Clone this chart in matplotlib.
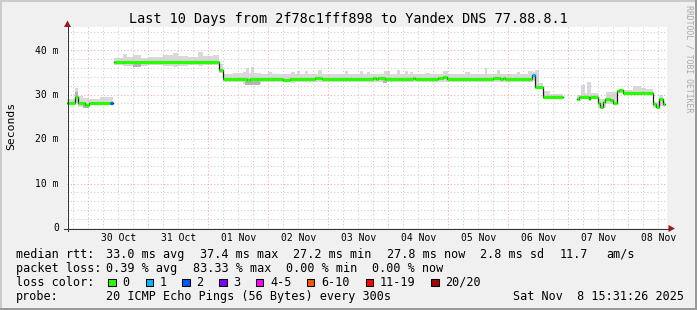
import matplotlib
matplotlib.use('Agg')
import matplotlib.pyplot as plt
import matplotlib.transforms as mtrans
from matplotlib.patches import Rectangle, Polygon
from matplotlib.lines import Line2D

nan = float('nan')

# ---------------- data ----------------
title = "Last 10 Days from 2f78c1fff898 to Yandex DNS 77.88.8.1"
day_labels = ["30 Oct", "31 Oct", "01 Nov", "02 Nov", "03 Nov",
              "04 Nov", "05 Nov", "06 Nov", "07 Nov", "08 Nov"]
y_ticks = [0, 10, 20, 30, 40]
y_tick_labels = ["0", "10 m", "20 m", "30 m", "40 m"]

# time axis: hours since 30 Oct 00:00
# median rtt steps (ms): breakpoints, value per step, loss class per step
med_t = [-8.5, -5.3, -4.1, -1.3, 0.3, 8.7, 9.9, 10.4, 52.4, 53.9, 63.5, 64.7,
         77.9, 80.7, 90.7, 93.5, 113.9, 115.1, 116.0, 118.7, 130.0, 130.7,
         139.9, 141.9, 143.5, 161.9, 164.7, 165.9, 166.7, 176.7, 177.5, 178.6,
         181.8, 189.8, 195.5, 196.3, 200.3, 200.7, 203.9, 204.7, 205.9, 206.7,
         208.7, 209.9, 211.5, 212.3, 213.9, 225.9, 227.1, 228.3, 229.9, 230.8]
med_v = [28.1, 29.4, 28.1, 27.7, 28.1, 28.1, nan, 37.4, 35.6, 33.5, 33.2, 33.5,
         33.2, 33.5, 33.8, 33.5, 33.8, 33.5, 33.8, 33.5, 33.8, 33.4,
         33.7, 33.9, 33.5, 33.7, 33.4, 33.8, 33.5, 33.6, 34.3, 31.8,
         29.5, nan, 28.9, 29.5, 29.1, 29.5, 28.2, 27.3, 28.3, 28.9,
         28.8, 28.2, 30.9, 31.0, 30.4, 27.8, 27.3, 29.1, 27.9]
med_loss = [0, 0, 0, 0, 0, 2, 0, 0, 0, 0, 0, 0,
            0, 0, 0, 0, 0, 0, 0, 0, 0, 0,
            0, 0, 0, 0, 0, 0, 0, 0, 1, 0,
            0, 0, 0, 0, 0, 0, 0, 0, 0, 0,
            0, 0, 0, 0, 0, 0, 0, 0, 0]

# smoke blocks: (t0, t1, low ms, high ms)
smoke_light = [
    (-8.5, -5.3, 27.6, 28.9), (-5.3, -4.1, 28.0, 31.5), (-4.1, -2.1, 27.3, 29.6),
    (-2.1, 0.3, 26.9, 29.3), (0.3, 4.7, 27.6, 29.0), (4.7, 7.1, 27.6, 29.4),
    (7.1, 9.9, 27.7, 29.5),
    (10.4, 14, 36.7, 38.2), (14, 15.5, 36.5, 39.1), (15.5, 18, 36.5, 38.4),
    (18, 21, 36.2, 38.9), (21, 24, 36.5, 38.3), (24, 30, 36.7, 38.4),
    (30, 34, 36.5, 38.8), (34, 36, 36.3, 39.4), (36, 40, 36.5, 38.6),
    (40, 44, 36.6, 38.5), (44, 46, 36.5, 39.5), (46, 50, 36.7, 38.6),
    (50, 52.4, 36.7, 38.9), (52.4, 53.9, 34.8, 36.9),
    (53.9, 58, 32.9, 34.6), (58, 62, 32.8, 34.9), (62, 63.0, 32.4, 35.0),
    (63.0, 64.4, 32.2, 36.0), (64.4, 65.0, 32.3, 34.8), (65.0, 66.2, 32.1, 36.1),
    (66.2, 69, 32.3, 34.9), (69, 72, 32.8, 34.6), (72, 73.5, 32.8, 35.1),
    (73.5, 81, 32.8, 34.6), (81, 82.6, 32.7, 35.0), (82.6, 83.4, 32.8, 34.6),
    (83.4, 84.6, 32.8, 35.3), (84.6, 86.7, 32.8, 34.6), (86.7, 88, 32.9, 35.3),
    (88, 92, 32.9, 34.6), (92, 93.5, 32.9, 35.5), (93.5, 102.7, 32.8, 34.7),
    (102.7, 103.9, 32.8, 35.2), (103.9, 108.7, 32.9, 34.6), (108.7, 110, 32.9, 35.3),
    (110, 111.5, 32.9, 34.7), (111.5, 112.7, 32.9, 35.1), (112.7, 118.3, 32.9, 34.7),
    (118.3, 120.7, 32.9, 35.4), (120.7, 123.5, 32.9, 34.6), (123.5, 124.7, 32.9, 35.5),
    (124.7, 126.7, 32.9, 34.7), (126.7, 127.9, 32.8, 35.4), (127.9, 128.7, 32.9, 34.6),
    (128.7, 129.9, 32.8, 35.1), (129.9, 134.7, 32.9, 34.6), (134.7, 136.7, 32.9, 34.9),
    (136.7, 141.9, 32.9, 34.6), (141.9, 143.9, 32.9, 35.2), (143.9, 150.7, 32.9, 34.6),
    (150.7, 152.7, 32.9, 35.0), (152.7, 158.7, 32.9, 34.7), (158.7, 159.5, 32.9, 36.0),
    (159.5, 163.5, 32.9, 34.6), (163.5, 164.7, 32.9, 35.5), (164.7, 171.5, 32.9, 34.7),
    (171.5, 172.7, 32.9, 35.0), (172.7, 176.0, 32.9, 34.6), (176.0, 177.7, 32.9, 35.4),
    (177.7, 178.6, 33.0, 35.0), (178.6, 180.2, 31.2, 35.6), (180.2, 181.8, 31.2, 32.6),
    (181.8, 184.5, 29.0, 30.9), (184.5, 189.8, 29.0, 30.2),
    (195.5, 197, 28.5, 30.0), (197, 198.6, 29.0, 32.2), (198.6, 199.6, 29.0, 30.3),
    (199.6, 201, 29.0, 32.9), (201, 204, 29.0, 30.4), (204, 207, 26.9, 29.0),
    (207, 211.5, 27.8, 30.6), (211.5, 214, 30.3, 31.3), (214, 218, 30.0, 31.1),
    (218, 221, 30.0, 31.9), (221, 223, 30.0, 31.5), (223, 226, 30.0, 31.2),
    (226, 228.3, 26.9, 28.3), (228.3, 230, 27.5, 29.9), (230, 230.8, 27.3, 28.5),
]
smoke_dark = [
    (-5.3, -4.1, 29.0, 30.5), (-2.1, 0.3, 26.9, 27.7), (18, 21, 36.2, 37.0),
    (62.5, 68.7, 32.1, 33.2), (118, 119.5, 32.6, 33.3),
]

loss_labels = ['0', '1', '2', '3', '4-5', '6-10', '11-19', '20/20']
loss_colors = ['#26ff00', '#00b8ff', '#0059ff', '#7e00ff', '#ff00ff',
               '#ff5500', '#ff0000', '#a10000']

rtt_items = ["33.0 ms avg", "37.4 ms max", "27.2 ms min", "27.8 ms now",
             "2.8 ms sd", "11.7"]
loss_items = ["0.39 % avg", "83.33 % max", "0.00 % min", "0.00 % now"]
probe_text = "20 ICMP Echo Pings (56 Bytes) every 300s"
date_text = "Sat Nov  8 15:31:26 2025"

# ---------------- figure ----------------
W, H = 697, 310
MONO = 'DejaVu Sans Mono'
fig = plt.figure(figsize=(W / 100, H / 100), dpi=100, facecolor='#f0f0f0')


def fx(x):
    return x / W


def fy(y):
    return 1 - y / H


L, R, T, B = 67, 667, 27, 228
ax = fig.add_axes([fx(L), fy(B), (R - L) / W, (B - T) / H])
ax.set_facecolor('white')
ax.set_xlim(-8.5, 231.5)
ax.set_ylim(0, 45.2)
for s in ax.spines.values():
    s.set_visible(False)
ax.set_xticks([])
ax.set_yticks([])

# grid
dots = (0, (1, 2.2))
for v in range(2, 46, 2):
    major = v % 10 == 0
    ax.axhline(v, color='#eeaaaa' if major else '#cccccc', lw=0.75,
               ls=dots, zorder=1.5)
for h in range(-6, 231, 6):
    major = h % 24 == 0
    ax.axvline(h, color='#eeaaaa' if major else '#cccccc', lw=0.75,
               ls=dots, zorder=1.5)

# smoke
for blocks, col in ((smoke_light, '#d9d9d9'), (smoke_dark, '#b4b4b4')):
    t0 = [b[0] for b in blocks]
    wd = [b[1] - b[0] for b in blocks]
    lo = [b[2] for b in blocks]
    ht = [b[3] - b[2] for b in blocks]
    ax.bar(t0, ht, width=wd, bottom=lo, align='edge', color=col,
           linewidth=0, zorder=1)

# median: thin dark line, then loss-coloured thick segments
ax.step(med_t, med_v + [med_v[-1]], where='post', color='#202020',
        lw=0.9, zorder=3)
xs0, xs1, ys, cs = [], [], [], []
for i, v in enumerate(med_v):
    if v == v:
        xs0.append(med_t[i])
        xs1.append(med_t[i + 1])
        ys.append(v)
        cs.append(loss_colors[med_loss[i]])
lc = ax.hlines(ys, xs0, xs1, colors=cs, lw=2.3, zorder=4)
lc.set_capstyle('butt')

# x labels
tx = mtrans.blended_transform_factory(ax.transData, fig.transFigure)
for k, lab in enumerate(day_labels):
    ax.text(12 + 24 * k, fy(240.7), lab, transform=tx, ha='center',
            va='baseline', fontsize=7, family=MONO, color='black')
# y labels
ty = mtrans.offset_copy(
    mtrans.blended_transform_factory(fig.transFigure, ax.transData),
    fig=fig, y=-3.4, units='dots')
for v, lab in zip(y_ticks, y_tick_labels):
    fig.text(fx(58.8), v, lab, transform=ty, ha='right', va='baseline',
             fontsize=7, family=MONO)


def fline(x0, y0, x1, y1, color='#333333', lw=0.75):
    fig.add_artist(Line2D([fx(x0), fx(x1)], [fy(y0), fy(y1)],
                          transform=fig.transFigure, color=color, lw=lw))


# axes with arrows
fline(67.5, 231, 67.5, 26)
fline(64, 228.5, 669, 228.5)
fig.add_artist(Polygon([(fx(67.5), fy(20.5)), (fx(64), fy(27)), (fx(71), fy(27))],
                       closed=True, transform=fig.transFigure,
                       facecolor='#9b1b1b', edgecolor='none'))
fig.add_artist(Polygon([(fx(675), fy(228.5)), (fx(668.5), fy(225)), (fx(668.5), fy(232))],
                       closed=True, transform=fig.transFigure,
                       facecolor='#9b1b1b', edgecolor='none'))

# title, y label, watermark
fig.text(fx(348), fy(22.8), title, ha='center', va='baseline',
         fontsize=9.72, family=MONO)
fig.text(fx(11), fy(126), "Seconds", rotation=90, ha='center', va='center',
         fontsize=8.2, family=MONO)
fig.text(fx(688.5), fy(59), "RRDTOOL / TOBI OETIKER", rotation=270,
         ha='center', va='center', fontsize=5.9, family=MONO, color='#a8a8a8')

# legend / stats rows
FS = 8.5
CW = FS * 100 / 72 * 0.602
GLUE = 15.2


def row(y, label, items, x_start=106.5):
    fig.text(fx(16), fy(y), label, ha='left', va='baseline', fontsize=FS,
             family=MONO)
    x = x_start
    for s in items:
        fig.text(fx(x), fy(y), s, ha='left', va='baseline', fontsize=FS,
                 family=MONO)
        x += len(s) * CW + GLUE


row(257.7, "median rtt:", rtt_items)
fig.text(fx(606.6), fy(257.7), "am/s", ha='left', va='baseline', fontsize=FS,
         family=MONO)
row(271.7, "packet loss:", loss_items)
row(285.7, "loss color:", [])
sq_x = [108, 145.7, 182, 219, 255.7, 306.7, 365.7, 431]
for xq, lab, col in zip(sq_x, loss_labels, loss_colors):
    fig.add_artist(Rectangle((fx(xq), fy(286)), 7.5 / W, 7.5 / H,
                             transform=fig.transFigure, facecolor=col,
                             edgecolor='black', lw=0.75))
    fig.text(fx(xq + 14.2), fy(285.7), lab, ha='left', va='baseline',
             fontsize=FS, family=MONO)
row(299.7, "probe:", [probe_text])
fig.text(fx(512.6), fy(299.7), date_text, ha='left', va='baseline',
         fontsize=FS, family=MONO)

# 3D frame
fig.add_artist(Rectangle((0, fy(2)), 1, 2 / H, transform=fig.transFigure,
                         facecolor='#cbcbcb', edgecolor='none'))
fig.add_artist(Rectangle((0, 0), 2 / W, 1, transform=fig.transFigure,
                         facecolor='#cbcbcb', edgecolor='none'))
fig.add_artist(Rectangle((0, 0), 1, 2 / H, transform=fig.transFigure,
                         facecolor='#999999', edgecolor='none'))
fig.add_artist(Rectangle((fx(W - 2), 0), 2 / W, 1, transform=fig.transFigure,
                         facecolor='#999999', edgecolor='none'))

fig.savefig('out.png', dpi=100, facecolor=fig.get_facecolor())
